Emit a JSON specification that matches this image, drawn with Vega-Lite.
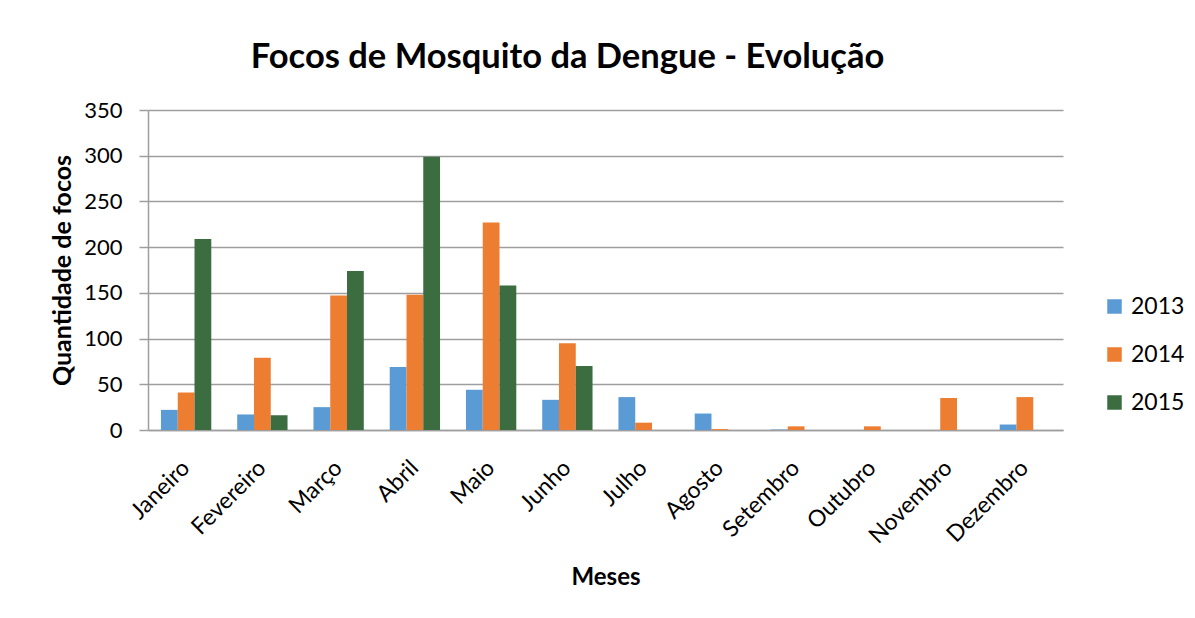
{
  "$schema": "https://vega.github.io/schema/vega-lite/v6.json",
  "width": 915,
  "height": 320,
  "autosize": {"type": "none"},
  "padding": {"left": 148, "top": 110, "right": 132, "bottom": 188},
  "background": "white",
  "title": {
    "text": "Focos de Mosquito da Dengue - Evolução",
    "font": "Lato",
    "fontSize": 34.5,
    "fontWeight": "bold",
    "color": "#000000",
    "anchor": "middle",
    "dx": -38,
    "offset": 24
  },
  "data": {
    "values": [
      {"mes": "Janeiro", "ano": "2013", "focos": 22},
      {"mes": "Janeiro", "ano": "2014", "focos": 41},
      {"mes": "Janeiro", "ano": "2015", "focos": 209},
      {"mes": "Fevereiro", "ano": "2013", "focos": 17},
      {"mes": "Fevereiro", "ano": "2014", "focos": 79},
      {"mes": "Fevereiro", "ano": "2015", "focos": 16},
      {"mes": "Março", "ano": "2013", "focos": 25},
      {"mes": "Março", "ano": "2014", "focos": 147},
      {"mes": "Março", "ano": "2015", "focos": 174},
      {"mes": "Abril", "ano": "2013", "focos": 69},
      {"mes": "Abril", "ano": "2014", "focos": 148},
      {"mes": "Abril", "ano": "2015", "focos": 299},
      {"mes": "Maio", "ano": "2013", "focos": 44},
      {"mes": "Maio", "ano": "2014", "focos": 227},
      {"mes": "Maio", "ano": "2015", "focos": 158},
      {"mes": "Junho", "ano": "2013", "focos": 33},
      {"mes": "Junho", "ano": "2014", "focos": 95},
      {"mes": "Junho", "ano": "2015", "focos": 70},
      {"mes": "Julho", "ano": "2013", "focos": 36},
      {"mes": "Julho", "ano": "2014", "focos": 8},
      {"mes": "Julho", "ano": "2015", "focos": 0},
      {"mes": "Agosto", "ano": "2013", "focos": 18},
      {"mes": "Agosto", "ano": "2014", "focos": 1},
      {"mes": "Agosto", "ano": "2015", "focos": 0},
      {"mes": "Setembro", "ano": "2013", "focos": 0.5},
      {"mes": "Setembro", "ano": "2014", "focos": 4},
      {"mes": "Setembro", "ano": "2015", "focos": 0},
      {"mes": "Outubro", "ano": "2013", "focos": 0},
      {"mes": "Outubro", "ano": "2014", "focos": 4},
      {"mes": "Outubro", "ano": "2015", "focos": 0},
      {"mes": "Novembro", "ano": "2013", "focos": 0},
      {"mes": "Novembro", "ano": "2014", "focos": 35},
      {"mes": "Novembro", "ano": "2015", "focos": 0},
      {"mes": "Dezembro", "ano": "2013", "focos": 6},
      {"mes": "Dezembro", "ano": "2014", "focos": 36},
      {"mes": "Dezembro", "ano": "2015", "focos": 0}
    ]
  },
  "mark": {"type": "bar"},
  "encoding": {
    "x": {
      "field": "mes",
      "type": "nominal",
      "sort": ["Janeiro", "Fevereiro", "Março", "Abril", "Maio", "Junho", "Julho", "Agosto", "Setembro", "Outubro", "Novembro", "Dezembro"],
      "scale": {"paddingInner": 0.34, "paddingOuter": 0.17},
      "axis": {
        "title": "Meses",
        "titleFont": "Lato",
        "titleFontSize": 24,
        "titleFontWeight": "bold",
        "titleColor": "#000000",
        "titleY": 147,
        "titleBaseline": "middle",
        "labelAngle": -45,
        "labelAlign": "right",
        "labelBaseline": "middle",
        "labelFont": "Lato",
        "labelFontSize": 23,
        "labelColor": "#000000",
        "labelPadding": 34,
        "ticks": false,
        "domainColor": "#9E9E9E",
        "domainWidth": 1.5,
        "grid": false
      }
    },
    "xOffset": {"field": "ano", "type": "nominal", "scale": {"paddingInner": 0}},
    "y": {
      "field": "focos",
      "type": "quantitative",
      "scale": {"domain": [0, 350]},
      "axis": {
        "title": "Quantidade de focos",
        "titleFont": "Lato",
        "titleFontSize": 25,
        "titleFontWeight": "bold",
        "titleColor": "#000000",
        "titleAngle": -90,
        "titleX": -86,
        "titleY": 160,
        "titleAlign": "center",
        "titleBaseline": "middle",
        "values": [0, 50, 100, 150, 200, 250, 300, 350],
        "labelFont": "Lato",
        "labelFontSize": 22,
        "labelColor": "#000000",
        "labelPadding": 17,
        "tickSize": 9,
        "tickColor": "#9E9E9E",
        "tickWidth": 1.5,
        "domainColor": "#9E9E9E",
        "domainWidth": 1.5,
        "gridColor": "#9E9E9E",
        "gridWidth": 1.5
      }
    },
    "color": {
      "field": "ano",
      "type": "nominal",
      "scale": {"domain": ["2013", "2014", "2015"], "range": ["#5B9BD5", "#ED7D31", "#3B6D41"]},
      "legend": {
        "title": null,
        "orient": "none",
        "legendX": 955,
        "legendY": 185,
        "symbolType": "square",
        "symbolSize": 210,
        "symbolStrokeWidth": 0,
        "labelFont": "Lato",
        "labelFontSize": 23,
        "labelColor": "#000000",
        "labelOffset": 5,
        "rowPadding": 24
      }
    }
  },
  "config": {
    "view": {"stroke": null}
  }
}
